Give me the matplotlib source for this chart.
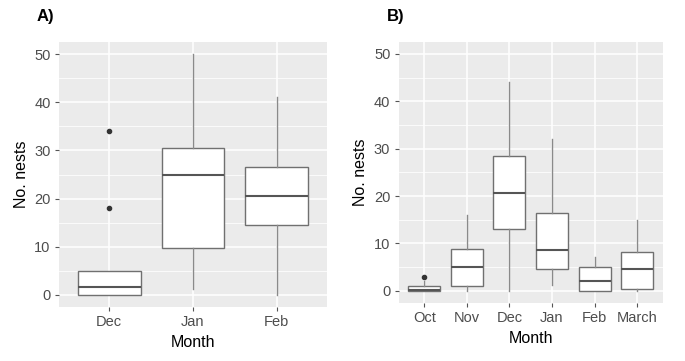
import numpy as np
import matplotlib.pyplot as plt

plt.rcParams['font.family'] = ['Liberation Sans', 'DejaVu Sans']

# panel A
months_a = ['Dec', 'Jan', 'Feb']
q1_a = [0, 9.7, 14.5]
med_a = [1.6, 25.0, 20.6]
q3_a = [5.0, 30.5, 26.5]
wlo_a = [0, 1.2, 0]
whi_a = [5.0, 50, 41]
out_a = [[18, 34], [], []]

# panel B
months_b = ['Oct', 'Nov', 'Dec', 'Jan', 'Feb', 'March']
q1_b = [0, 1.1, 13.1, 4.7, 0, 0.3]
med_b = [0.1, 5.1, 20.6, 8.6, 2.1, 4.7]
q3_b = [1.1, 8.8, 28.5, 16.5, 5.0, 8.2]
wlo_b = [0, 0, 0, 1.2, 0, 0]
whi_b = [2.0, 16.1, 44, 32, 7.1, 15]
out_b = [[3], [], [], [], [], []]

BG = '#EBEBEB'


def make_stats(q1, med, q3, wlo, whi, out):
    stats = []
    for i in range(len(q1)):
        stats.append({'q1': q1[i], 'med': med[i], 'q3': q3[i],
                      'whislo': wlo[i], 'whishi': whi[i],
                      'fliers': out[i]})
    return stats


def draw_panel(ax, labels, stats):
    ax.set_facecolor(BG)
    for s in ax.spines.values():
        s.set_visible(False)
    ax.set_ylim(-2.5, 52.5)
    ax.set_xlim(0.4, len(labels) + 0.6)
    ax.set_yticks(np.arange(0, 51, 10))
    ax.set_yticks(np.arange(5, 51, 10), minor=True)
    ax.grid(True, which='major', color='white', lw=1.1)
    ax.grid(True, which='minor', axis='y', color='white', lw=0.55)
    ax.set_axisbelow(True)
    ax.bxp(stats, positions=range(1, len(labels) + 1), widths=0.75,
           patch_artist=True, showcaps=False,
           boxprops=dict(facecolor='white', edgecolor='#707070', lw=1.0),
           medianprops=dict(color='#555555', lw=1.5),
           whiskerprops=dict(color='#8a8a8a', lw=1.0),
           flierprops=dict(marker='o', markersize=3, markerfacecolor='#333333',
                           markeredgecolor='#333333'))
    ax.set_xticks(range(1, len(labels) + 1))
    ax.set_xticklabels(labels)
    ax.tick_params(which='major', length=3, color='#555555', labelsize=10.5,
                   labelcolor='#4D4D4D', pad=3)
    ax.tick_params(which='minor', length=0)
    ax.set_xlabel('Month', fontsize=11.5, labelpad=4)
    ax.set_ylabel('No. nests', fontsize=11.5, labelpad=4)


fig = plt.figure(figsize=(6.85, 3.61), dpi=100)
ax1 = fig.add_axes([0.0861, 0.1496, 0.3912, 0.734])
ax2 = fig.add_axes([0.582, 0.1615, 0.3854, 0.7221])

draw_panel(ax1, months_a, make_stats(q1_a, med_a, q3_a, wlo_a, whi_a, out_a))
draw_panel(ax2, months_b, make_stats(q1_b, med_b, q3_b, wlo_b, whi_b, out_b))

fig.text(37 / 685, 1 - 16 / 361, 'A)', fontsize=12, fontweight='bold', va='center')
fig.text(387 / 685, 1 - 16 / 361, 'B)', fontsize=12, fontweight='bold', va='center')

fig.savefig('out.png', dpi=100)
